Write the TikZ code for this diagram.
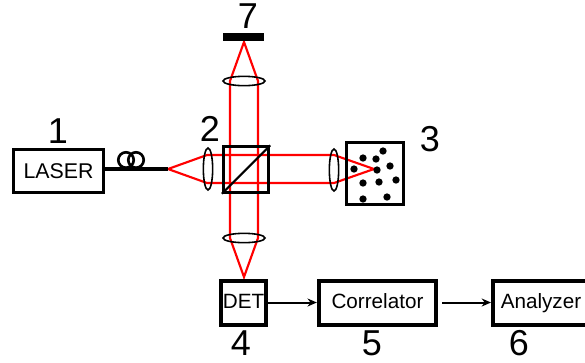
\documentclass[tikz,border=0pt]{standalone}
\usepackage{fontspec}
\setmainfont{Liberation Sans}
\usetikzlibrary{arrows.meta,shapes}
\begin{document}
\begin{tikzpicture}[x=0.75pt,y=-0.75pt,>={Stealth[length=7pt,width=6pt]},
beam/.style={red,line width=1.6pt},
lensv/.style={draw,ellipse,line width=1.2pt,inner sep=0pt,minimum width=7pt,minimum height=31.5pt},
lensh/.style={draw,ellipse,line width=1.2pt,inner sep=0pt,minimum width=31.5pt,minimum height=7pt},
box/.style={draw,line width=3pt,inner sep=0pt,text height=11.5pt,text depth=2.5pt,font=\fontsize{15.5}{16}\selectfont},
num/.style={font=\fontsize{27}{27}\selectfont,inner sep=0pt},
speck/.style={fill,circle,inner sep=0pt,minimum size=5.5pt}]
\useasboundingbox (0,0) rectangle (585,362);
\clip (0,0) rectangle (585,362);
% beam points
\coordinate (src) at (168,169);
\coordinate (ap3) at (374,169);
\coordinate (ap7) at (244,42);
\coordinate (ap4) at (244,277);
\coordinate (a1) at (207,155);
\coordinate (a2) at (207,183);
\coordinate (b1) at (334,155);
\coordinate (b2) at (334,183);
\coordinate (c1) at (230,81);
\coordinate (c2) at (258,81);
\coordinate (d1) at (230,238);
\coordinate (d2) at (258,238);
\draw[beam](src)--(a1)--(b1)--(ap3)--(b2)--(a2)--cycle;
\draw[beam](ap7)--(c1)--(d1)--(ap4)--(d2)--(c2)--cycle;
% lenses and cube
\node[lensv] (lensl) at (208,169) {};
\node[lensv] (lensr) at (334,170) {};
\node[lensh] (lenst) at (244,81) {};
\node[lensh] (lensb) at (244,238) {};
\node[draw,line width=2.2pt,minimum size=34pt,inner sep=0pt] (cube) at (246,169.5) {};
\draw[line width=1.6pt](cube.south west)--(cube.north east);
\node[fill,minimum width=30.5pt,minimum height=6pt,inner sep=0pt] (mirror) at (243.5,37) {};
% laser and fibre
\node[draw,line width=2.2pt,minimum width=67pt,minimum height=32pt,inner sep=0pt,font=\fontsize{16}{16}\selectfont] (laser) at (58.5,171) {LASER};
\draw[line width=2.4pt](laser.east |- src)--(src);
\draw[line width=2pt](126,160) circle (5.8pt) (136,160) circle (5.8pt);
% sample
\node[draw,line width=2.2pt,minimum width=43pt,minimum height=47pt,inner sep=0pt] (sample) at (375,173.5) {};
\foreach \x/\y in {363/158,376/159,383/151,390/166,377/170,354/169,363/183,379/182,396/180,363/199,387/197}
  \node[speck] at (\x,\y) {};
% detection chain
\node[box,minimum width=34pt,minimum height=33pt] (det) at (243.5,302.5) {DET};
\node[box,minimum width=88pt,minimum height=33pt] (correlator) at (377.5,302.5) {Correlator};
\node[box,minimum width=72pt,minimum height=33pt] (analyzer) at (541,302.5) {Analyzer};
\draw[->,line width=1.5pt](det)--(correlator);
\draw[->,line width=1.5pt,shorten <=3pt](correlator)--(analyzer);
% numbers
\node[num] (n1) at (58,131) {1};
\node[num] (n2) at (210,129) {2};
\node[num] (n3) at (430,139) {3};
\node[num] (n4) at (241,343) {4};
\node[num] (n5) at (372,343) {5};
\node[num] (n6) at (519,343) {6};
\node[num] (n7) at (248,16) {7};
\end{tikzpicture}
\end{document}
